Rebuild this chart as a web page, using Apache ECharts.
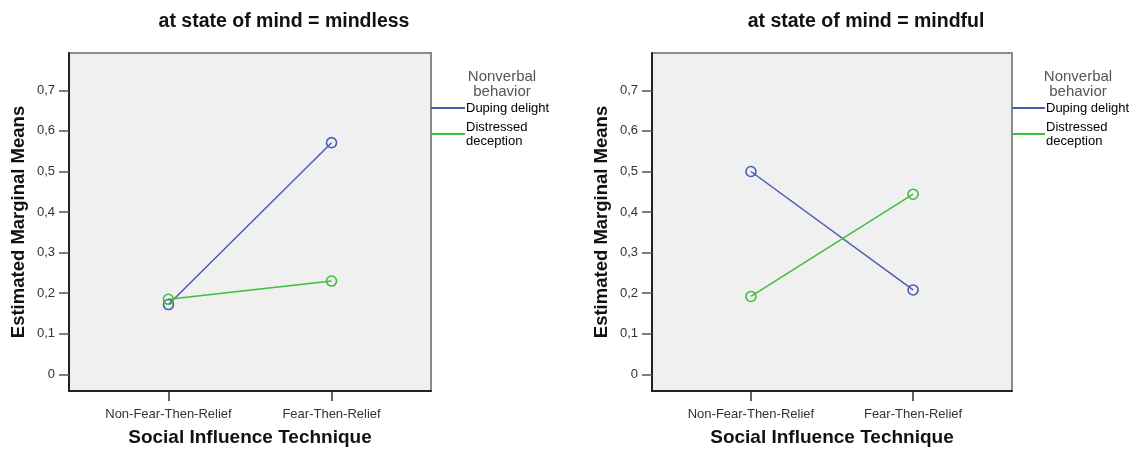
<!DOCTYPE html>
<html>
<head>
<meta charset="utf-8">
<script src="https://cdn.jsdelivr.net/npm/echarts@6/dist/echarts.min.js"></script>
<style>
html,body{margin:0;padding:0;background:#fff;}
#chart{width:1135px;height:450px;}
</style>
</head>
<body>
<div id="chart"></div>
<script>
// ---- data ----
const categories = ['Non-Fear-Then-Relief', 'Fear-Then-Relief'];
const seriesNames = ['Duping delight', 'Distressed\ndeception'];
const mindlessDuping = [0.172, 0.571];
const mindlessDistressed = [0.185, 0.230];
const mindfulDuping = [0.500, 0.208];
const mindfulDistressed = [0.192, 0.444];
const yTicks = [0, 0.1, 0.2, 0.3, 0.4, 0.5, 0.6, 0.7];
const panelTitles = ['at state of mind = mindless', 'at state of mind = mindful'];
const legendTitle = 'Nonverbal\nbehavior';
const xName = 'Social Influence Technique';
const yName = 'Estimated Marginal Means';

// ---- styling ----
const FONT = '"Liberation Sans", Arial, sans-serif';
const BLUE = '#4A5DB5';
const GREEN = '#3DBE3D';
const colors = [BLUE, GREEN];

const grids = [
  {left: 69, top: 53, width: 362, height: 338},
  {left: 652, top: 53, width: 360, height: 338}
];

function toPts(vals) { return vals.map((v, i) => [i, v]); }

function xAxisFor(gi) {
  return {
    type: 'value', gridIndex: gi, min: -0.61, max: 1.61,
    name: xName, nameLocation: 'middle', nameGap: 37,
    nameTextStyle: {fontFamily: FONT, fontWeight: 'bold', fontSize: 19, color: '#111'},
    splitLine: {show: false},
    axisLine: {show: true, onZero: false, lineStyle: {color: '#222', width: 2}},
    axisTick: {show: true, length: 10, customValues: [0, 1], lineStyle: {color: '#333', width: 1.5}},
    axisLabel: {
      customValues: [0, 1], margin: 17,
      fontFamily: FONT, fontSize: 13, color: '#333',
      formatter: v => categories[Math.round(v)] || ''
    }
  };
}
function yAxisFor(gi) {
  return {
    type: 'value', gridIndex: gi, min: -0.041, max: 0.792,
    name: yName, nameLocation: 'middle', nameGap: 41,
    nameTextStyle: {fontFamily: FONT, fontWeight: 'bold', fontSize: 18.5, color: '#111'},
    splitLine: {show: false},
    axisLine: {show: true, onZero: false, lineStyle: {color: '#222', width: 2}},
    axisTick: {show: true, length: 10, customValues: yTicks, lineStyle: {color: '#555', width: 1.5}},
    axisLabel: {
      customValues: yTicks, margin: 14,
      fontFamily: FONT, fontSize: 13, color: '#333',
      formatter: v => (Math.abs(v) < 1e-9 ? '0' : v.toFixed(1).replace('.', ','))
    }
  };
}
function lineSeries(name, vals, color, gi) {
  return {
    type: 'line', name: name, xAxisIndex: gi, yAxisIndex: gi,
    data: toPts(vals),
    symbol: 'circle', symbolSize: 10,
    lineStyle: {color: color, width: 1.5},
    itemStyle: {color: 'rgba(240,240,240,0)', borderColor: color, borderWidth: 1.6},
    emphasis: {disabled: true},
    animation: false, z: 3
  };
}
function legendFor(left, w) {
  return {
    orient: 'vertical', left: left, top: 101, padding: 0,
    itemWidth: w, itemHeight: 2, itemGap: 5,
    selectedMode: false,
    textStyle: {fontFamily: FONT, fontSize: 13, lineHeight: 14, color: '#000', padding: [0, 0, 0, -4]},
    data: seriesNames.map((n, i) => ({name: n, icon: 'rect', itemStyle: {color: colors[i], borderWidth: 0}}))
  };
}

const chart = echarts.init(document.getElementById('chart'), null, {renderer: 'canvas'});
chart.setOption({
  animation: false,
  backgroundColor: '#fff',
  grid: grids.map(g => Object.assign({show: true, containLabel: false, outerBoundsMode: 'none', backgroundColor: '#F0F0F0', borderColor: '#8A8A8A', borderWidth: 2}, g)),
  xAxis: [xAxisFor(0), xAxisFor(1)],
  yAxis: [yAxisFor(0), yAxisFor(1)],
  legend: [legendFor(431, 34), legendFor(1012, 33)],
  series: [
    lineSeries(seriesNames[0], mindlessDuping, BLUE, 0),
    lineSeries(seriesNames[1], mindlessDistressed, GREEN, 0),
    lineSeries(seriesNames[0], mindfulDuping, BLUE, 1),
    lineSeries(seriesNames[1], mindfulDistressed, GREEN, 1)
  ],
  graphic: [
    {type: 'text', x: 284, y: 22, style: {text: panelTitles[0], font: 'bold 19.5px ' + FONT, fill: '#111', textAlign: 'center', textVerticalAlign: 'middle'}},
    {type: 'text', x: 866, y: 22, style: {text: panelTitles[1], font: 'bold 19.5px ' + FONT, fill: '#111', textAlign: 'center', textVerticalAlign: 'middle'}},
    {type: 'text', x: 502, y: 84, style: {text: legendTitle, font: '15px ' + FONT, lineHeight: 15, fill: '#555', textAlign: 'center', textVerticalAlign: 'middle'}},
    {type: 'text', x: 1078, y: 84, style: {text: legendTitle, font: '15px ' + FONT, lineHeight: 15, fill: '#555', textAlign: 'center', textVerticalAlign: 'middle'}}
  ]
});
</script>
</body>
</html>
